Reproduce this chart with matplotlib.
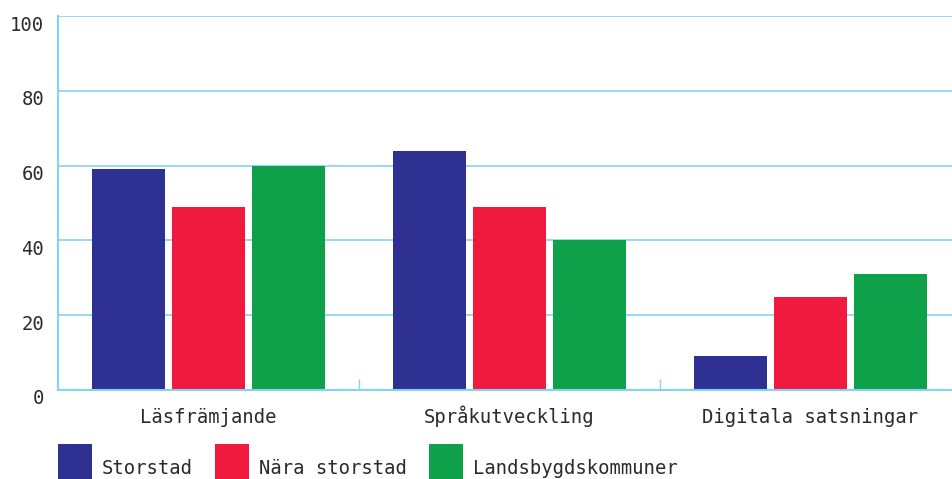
import matplotlib.pyplot as plt
import matplotlib.transforms as mtransforms
from matplotlib.patches import Patch
import numpy as np

plt.rcParams['font.family'] = ['DejaVu Sans Mono']

kategorier = ['Läsfrämjande', 'Språkutveckling', 'Digitala satsningar']
serier = ['Storstad', 'Nära storstad', 'Landsbygdskommuner']
storstad = [59, 64, 9]
nara_storstad = [49, 49, 25]
landsbygd = [60, 40, 31]
farger = ['#2e3192', '#ef1a3e', '#0fa04a']
y_ticks = [0, 20, 40, 60, 80, 100]

ljusbla = '#83d3f3'
textfarg = '#2b2b2b'

fig = plt.figure(figsize=(9.53, 4.79), dpi=100)
# axes goes a bit past the right edge, like in the original
ax = fig.add_axes([58 / 953, 1 - 390 / 479, 903 / 953, 374 / 479])

x = np.arange(len(kategorier))
steg = 0.266
bredd = 0.2425
for i, (varden, farg) in enumerate(zip([storstad, nara_storstad, landsbygd], farger)):
    ax.bar(x + (i - 1) * steg, varden, width=bredd, color=farg, zorder=3)

ax.set_xlim(-0.5, 2.5)
ax.set_ylim(0, 100)
ax.set_yticks(y_ticks)
ax.set_xticks(x)
ax.set_xticklabels(kategorier, va='baseline')
ax.set_xticks([0.5, 1.5], minor=True)

ax.grid(axis='y', color=ljusbla, linewidth=1.2, zorder=0)
for s in ['top', 'right']:
    ax.spines[s].set_visible(False)
for s in ['left', 'bottom']:
    ax.spines[s].set_color(ljusbla)
    ax.spines[s].set_linewidth(1.5)
    ax.spines[s].set_zorder(4)

ax.tick_params(axis='both', which='major', length=0, labelsize=13.6, labelcolor=textfarg)
ax.tick_params(axis='y', pad=10)
ax.tick_params(axis='x', pad=23.8)
ax.tick_params(axis='x', which='minor', direction='in', length=8, color=ljusbla, width=1)

offset = mtransforms.ScaledTranslation(0, -7 / 100, fig.dpi_scale_trans)
for lbl in ax.get_yticklabels():
    lbl.set_transform(lbl.get_transform() + offset)

handtag = [Patch(facecolor=f, edgecolor='none') for f in farger]
leg = fig.legend(handtag, serier, loc='lower left', bbox_to_anchor=(58 / 953, -2 / 479),
                 ncol=3, frameon=False, fontsize=13.6, handlelength=1.8, handleheight=2.6,
                 handletextpad=0.5, columnspacing=1.2, borderpad=0, borderaxespad=0,
                 labelcolor=textfarg)
# text sits lower than the centre of the squares in the original
ned = mtransforms.ScaledTranslation(0, -6 / 100, fig.dpi_scale_trans)
for t in leg.get_texts():
    t.set_transform(t.get_transform() + ned)

fig.savefig('out.png', dpi=100)
